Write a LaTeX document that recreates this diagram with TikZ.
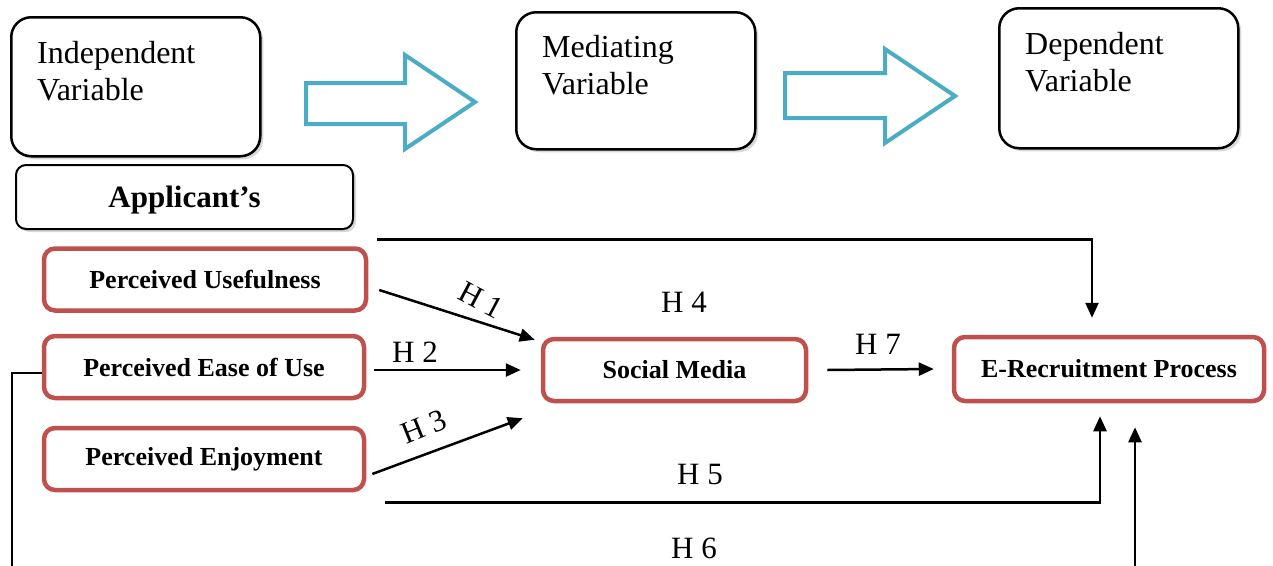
\documentclass[tikz,border=0pt]{standalone}
\usepackage{fontspec}
\setmainfont{Liberation Serif}
\usetikzlibrary{arrows.meta,shadows,calc}
\definecolor{boxred}{HTML}{C0504D}
\definecolor{arrcyan}{HTML}{4BACC6}
\tikzset{
  varbox/.style={draw=black, line width=2.5pt, rounded corners=20pt, fill=white,
    inner sep=0pt, anchor=north west,
    drop shadow={opacity=0.3, shadow xshift=3pt, shadow yshift=-3pt}},
  appbox/.style={draw=black, line width=2pt, rounded corners=10pt, fill=white,
    inner sep=0pt, text height=21pt, text depth=0pt, font=\fontsize{31}{36}\selectfont\bfseries,
    drop shadow={opacity=0.3, shadow xshift=3pt, shadow yshift=-3pt}},
  redbox/.style={draw=boxred, line width=4.5pt, rounded corners=11pt, fill=white,
    inner sep=0pt, minimum height=62pt, font=\fontsize{26}{30}\selectfont\bfseries},
  vartext/.style={font=\fontsize{32}{37}\selectfont, align=left, anchor=north west, inner sep=0pt},
  hlab/.style={font=\fontsize{31}{35}\selectfont, inner sep=0pt},
  conn/.style={line width=2.5pt, -{Triangle[length=15pt,width=13pt]}},
  hollow/.style={draw=arrcyan, line width=4pt, fill=white, line join=miter},
}
\begin{document}
\begin{tikzpicture}[x=1pt,y=-1pt]
\clip (0,0) rectangle (1273,565);
\fill[white] (0,0) rectangle (1273,565);

% header boxes
\node[varbox, minimum width=249pt, minimum height=139pt] (iv) at (10,16) {};
\node[vartext] (ivt) at (37,41) {Independent\\Variable};
\node[varbox, minimum width=239pt, minimum height=137pt] (mv) at (515,11) {};
\node[vartext] (mvt) at (542,35) {Mediating\\Variable};
\node[varbox, minimum width=239pt, minimum height=140pt] (dv) at (998,7) {};
\node[vartext] (dvt) at (1025,32) {Dependent\\Variable};

% hollow arrows
\draw[hollow] (306,83) -- (405,83) -- (405,55) -- (475,102) -- (405,149) -- (405,124) -- (306,124) -- cycle;
\draw[hollow] (785,73) -- (885,73) -- (885,49) -- (955,96) -- (885,143) -- (885,118) -- (785,118) -- cycle;

% applicant box
\node[appbox, minimum width=337pt, minimum height=64pt] (app) at (184.5,197) {Applicant’s};

% construct boxes
\node[redbox, minimum width=322pt] (pu) at (205,279.5) {Perceived Usefulness};
\node[redbox, minimum width=320pt] (peu) at (204,367) {Perceived Ease of Use};
\node[redbox, minimum width=320pt] (pe) at (204,459) {Perceived Enjoyment};
\node[redbox, minimum width=263pt] (sm) at (674.5,370) {Social Media};
\node[redbox, minimum width=310pt, minimum height=64pt] (er) at (1109,369) {E-Recruitment Process};

% connectors
\draw[conn] ($(pu.east)+(11,10.5)$) -- ($(sm.north west)+(-6,3)$);
\draw[conn] ($(peu.east)+(8,3)$) -- ($(sm.west)+(-20,0)$);
\draw[conn] ($(pe.east)+(6,15)$) -- ($(sm.south west)+(-18,15)$);
\draw[conn] ($(pu.north east)+(9,-7)$) -| ($(er.north)+(-17,-17)$);
\draw[conn] ($(sm.east)+(19,0)$) -- ($(er.west)+(-18,0)$);
\draw[conn] ($(pe.south east)+(19,10)$) -| ($(er.south)+(-9,13)$);
\draw[conn] ($(peu.west)+(0,6)$) -- (12,373) -- (12,620) -- (1135,620) -- ($(er.south)+(26,24)$);

% labels
\node[hlab, rotate=-28] (h1) at (481,300) {H 1};
\node[hlab] (h2) at (415,352) {H 2};
\node[hlab, rotate=22] (h3) at (424,427) {H 3};
\node[hlab] (h4) at (684,302) {H 4};
\node[hlab] (h5) at (700,474) {H 5};
\node[hlab] (h6) at (694,548) {H 6};
\node[hlab] (h7) at (878,344) {H 7};
\end{tikzpicture}
\end{document}
